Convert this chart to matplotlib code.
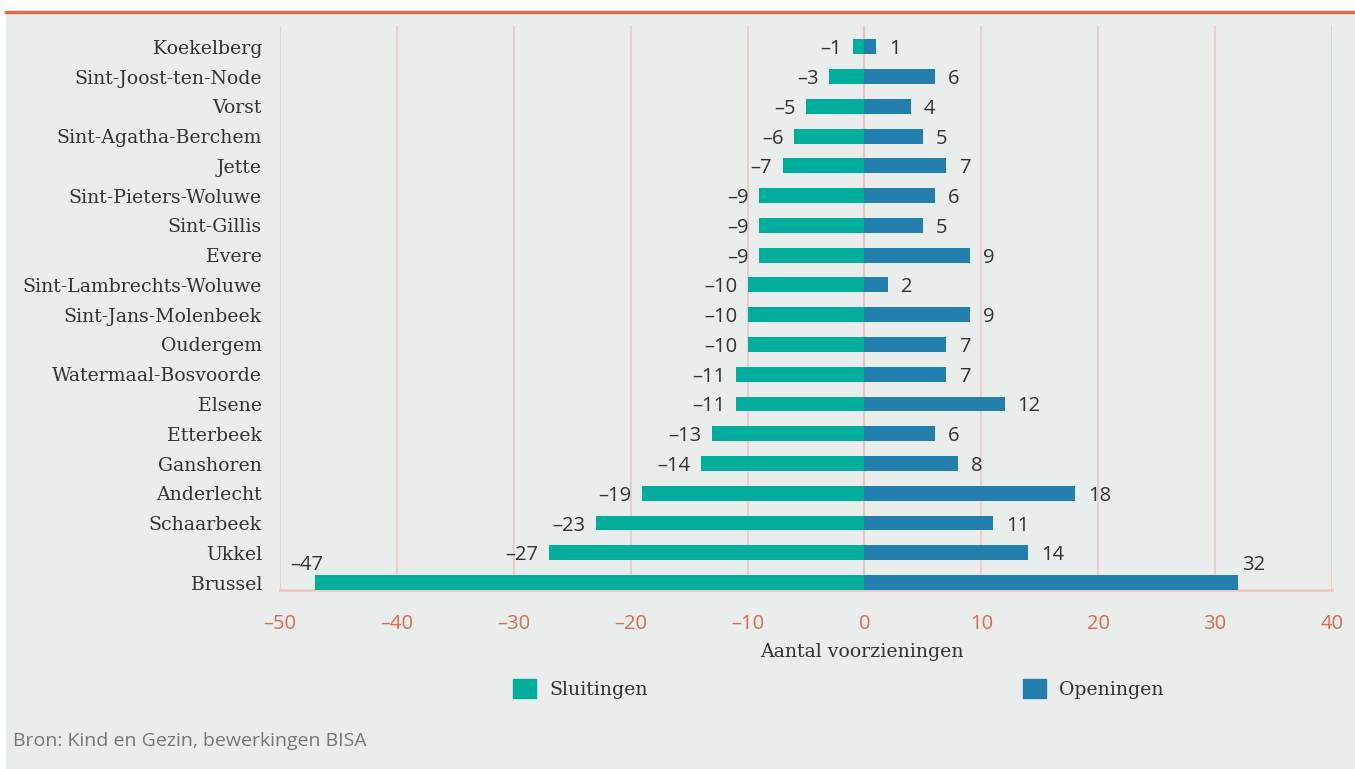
import numpy as np
import matplotlib.pyplot as plt
from matplotlib.patches import Rectangle, Patch
from matplotlib.lines import Line2D

# data, top to bottom as in the chart
gemeenten = ["Koekelberg", "Sint-Joost-ten-Node", "Vorst", "Sint-Agatha-Berchem",
             "Jette", "Sint-Pieters-Woluwe", "Sint-Gillis", "Evere",
             "Sint-Lambrechts-Woluwe", "Sint-Jans-Molenbeek", "Oudergem",
             "Watermaal-Bosvoorde", "Elsene", "Etterbeek", "Ganshoren",
             "Anderlecht", "Schaarbeek", "Ukkel", "Brussel"]
sluitingen = [-1, -3, -5, -6, -7, -9, -9, -9, -10, -10, -10, -11, -11, -13, -14, -19, -23, -27, -47]
openingen = [1, 6, 4, 5, 7, 6, 5, 9, 2, 9, 7, 7, 12, 6, 8, 18, 11, 14, 32]
xticks = [-50, -40, -30, -20, -10, 0, 10, 20, 30, 40]

teal = "#00ae9b"
blue = "#237fad"
orange = "#e0694f"
grid_c = "#efc6c6"
bg = "#e9edec"
txt = "#333333"

fig = plt.figure(figsize=(13.55, 7.69), dpi=100)
fig.patch.set_facecolor("white")
fig.patches.append(Rectangle((6 / 1355, 0), 1, 1 - 13 / 769, transform=fig.transFigure,
                             facecolor=bg, edgecolor="none", zorder=-10))
fig.lines.append(Line2D([6 / 1355, 1], [1 - 11.5 / 769] * 2, transform=fig.transFigure,
                        color=orange, lw=2.5))

ax = fig.add_axes([280 / 1355, 1 - 590 / 769, 1052 / 1355, 564 / 769])
ax.set_facecolor("none")

n = len(gemeenten)
y = np.arange(n)[::-1]
ax.barh(y, sluitingen, height=0.5, color=teal, zorder=3)
ax.barh(y, openingen, height=0.5, color=blue, zorder=3)

ax.set_xlim(-50, 40)
ax.set_ylim(-0.25, 18.7)
ax.set_xticks(xticks)
ax.set_xticklabels([str(t).replace("-", "\u2013") for t in xticks])
ax.set_yticks(y)
ax.set_yticklabels(gemeenten, fontfamily="DejaVu Serif", fontsize=13.6, color=txt)
for lbl in ax.get_yticklabels():
    lbl.set_va("center_baseline")
ax.tick_params(axis="y", length=0, pad=13)
ax.tick_params(axis="x", length=0, pad=17, labelsize=14.5, labelcolor=orange)
for lbl in ax.get_xticklabels():
    lbl.set_fontfamily("Open Sans")

ax.grid(axis="x", color=grid_c, lw=1.2, zorder=0)
ax.axvline(0, color="#d8b8b8", lw=1.5, zorder=1)
for s in ["top", "right", "left"]:
    ax.spines[s].set_visible(False)
ax.spines["bottom"].set_color(grid_c)
ax.spines["bottom"].set_linewidth(2)

# value labels (Brussel's labels sit above the bar ends)
for yi, s, o in zip(y, sluitingen, openingen):
    ls = str(s).replace("-", "\u2013")
    if yi == 0:
        ax.text(s - 0.7, yi + 0.68, ls, ha="center", va="center_baseline", fontsize=14.5,
                color=txt, family="Open Sans")
        ax.text(o + 1.3, yi + 0.68, str(o), ha="center", va="center_baseline", fontsize=14.5,
                color=txt, family="Open Sans")
    else:
        ax.text(s - 0.9, yi, ls, ha="right", va="center_baseline", fontsize=14.5,
                color=txt, family="Open Sans")
        ax.text(o + 1.1, yi, str(o), ha="left", va="center_baseline", fontsize=14.5,
                color=txt, family="Open Sans")

fig.text(862 / 1355, 1 - 652 / 769, "Aantal voorzieningen", ha="center", va="center",
         fontsize=13.6, color=txt, family="DejaVu Serif")

fig.legend(handles=[Patch(color=teal, label="Sluitingen")], loc="center left",
           bbox_to_anchor=(496 / 1355, 1 - 689 / 769), frameon=False,
           handlelength=1.2, handleheight=1.2, handletextpad=0.7,
           prop={"family": "DejaVu Serif", "size": 13.6})
fig.legend(handles=[Patch(color=blue, label="Openingen")], loc="center left",
           bbox_to_anchor=(1006 / 1355, 1 - 689 / 769), frameon=False,
           handlelength=1.2, handleheight=1.2, handletextpad=0.7,
           prop={"family": "DejaVu Serif", "size": 13.6})
for lg in fig.legends:
    for t in lg.get_texts():
        t.set_color(txt)

fig.text(13 / 1355, 1 - 741 / 769, "Bron: Kind en Gezin, bewerkingen BISA", ha="left",
         va="center", fontsize=14, color="#777777", family="Open Sans")

fig.savefig("out.png", dpi=100)
